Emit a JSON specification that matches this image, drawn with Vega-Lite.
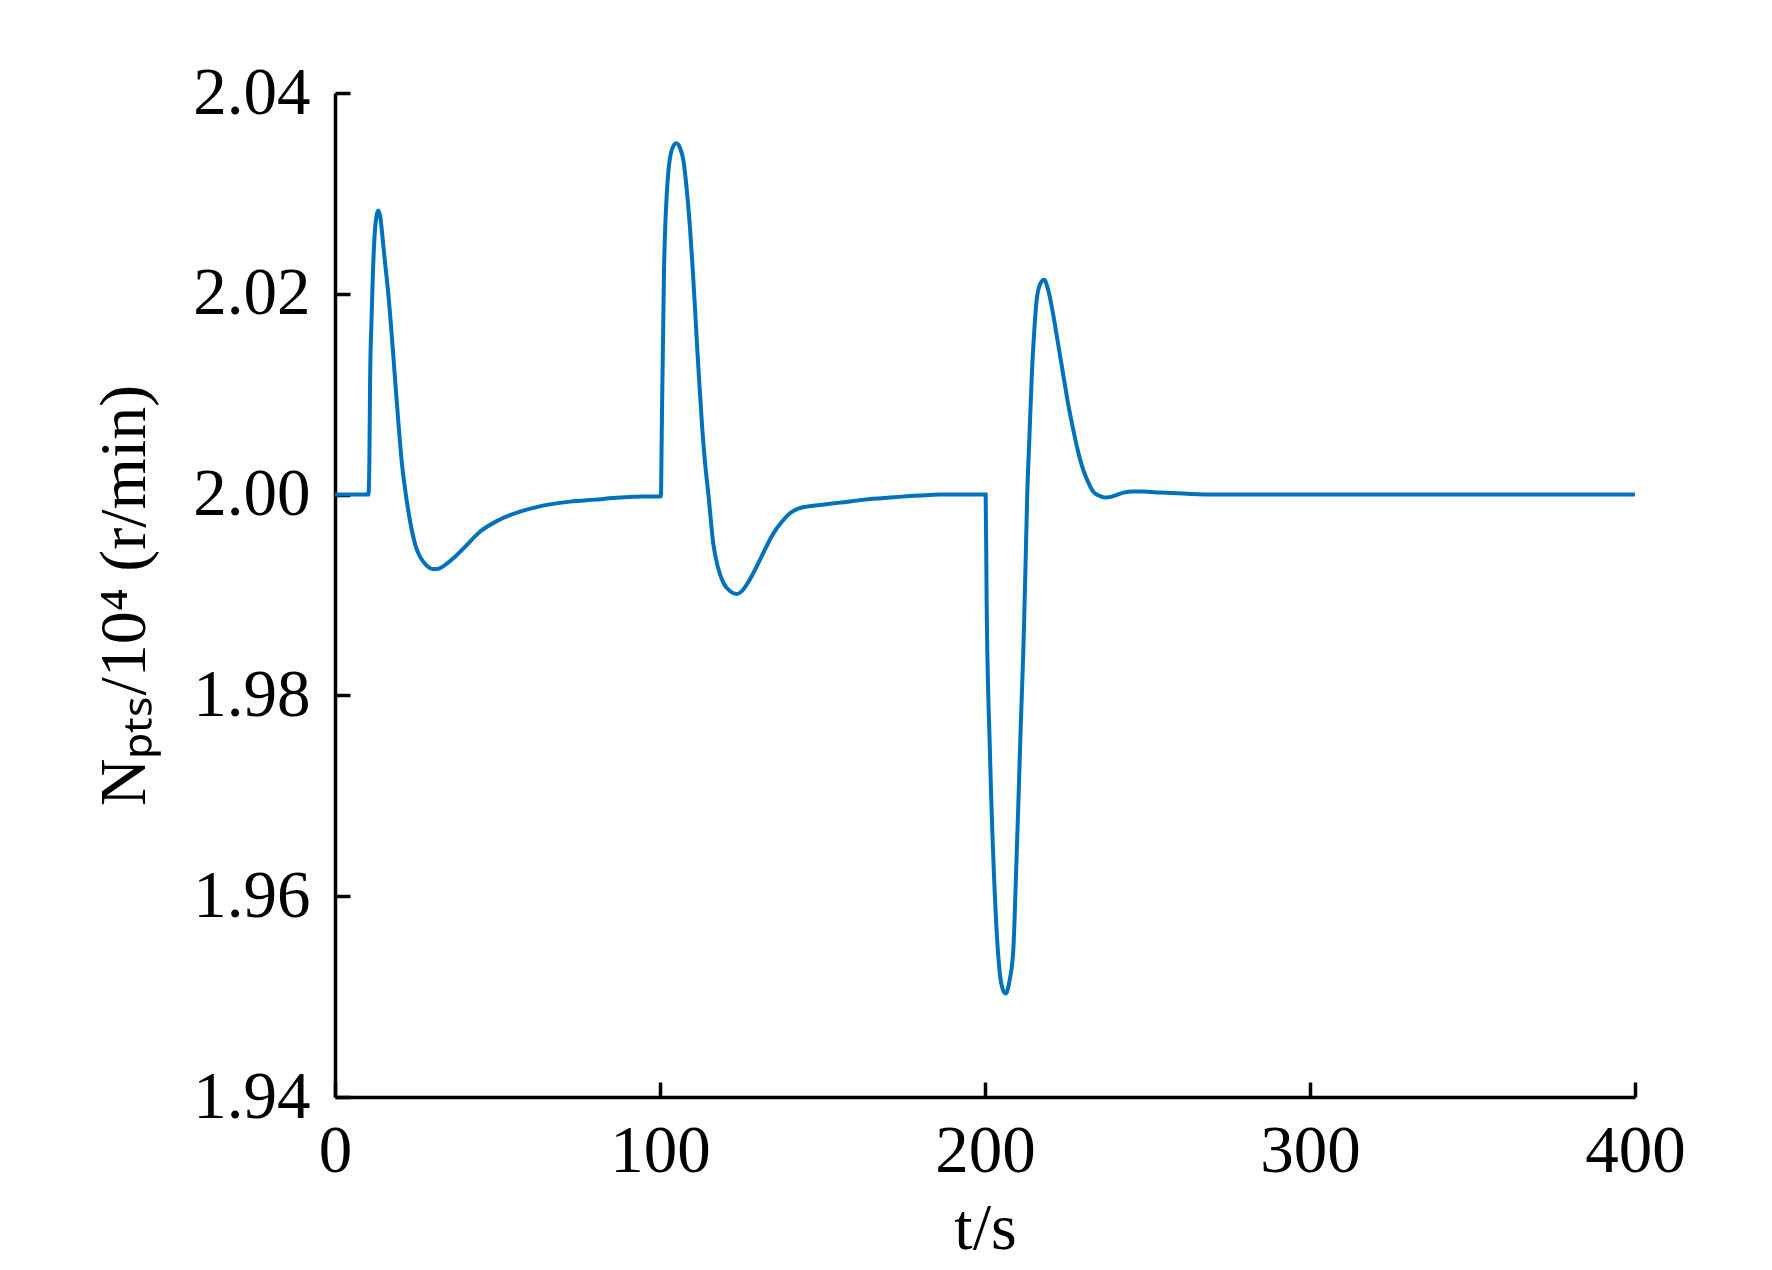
{
  "$schema": "https://vega.github.io/schema/vega-lite/v6.json",
  "width": 1300,
  "height": 1004,
  "autosize": "none",
  "padding": {"left": 335, "top": 93, "right": 137, "bottom": 173},
  "background": "white",
  "config": {
    "view": {"stroke": null},
    "axis": {
      "grid": false,
      "domainColor": "black",
      "domainWidth": 3.5,
      "tickColor": "black",
      "tickWidth": 3.5,
      "tickSize": -15,
      "labelFlush": false,
      "labelFont": "Liberation Serif",
      "labelFontSize": 67,
      "labelColor": "black",
      "titleFont": "Liberation Serif",
      "titleFontSize": 66,
      "titleFontWeight": "normal",
      "titleColor": "black"
    }
  },
  "data": {
    "values": [
      {"t": 0, "v": 2.0}, {"t": 10.3, "v": 2.0}, {"t": 10.6, "v": 2.004}, {"t": 10.8, "v": 2.0114}, {"t": 11.2, "v": 2.017}, {"t": 11.6, "v": 2.0214}, {"t": 12.3, "v": 2.0264}, {"t": 12.8, "v": 2.0278}, {"t": 13.3, "v": 2.0283}, {"t": 13.9, "v": 2.0277}, {"t": 14.9, "v": 2.0247}, {"t": 15.6, "v": 2.0225}, {"t": 16.4, "v": 2.02}, {"t": 17.5, "v": 2.0157}, {"t": 18.5, "v": 2.0114}, {"t": 19.5, "v": 2.0072}, {"t": 20.5, "v": 2.0034}, {"t": 21.8, "v": 2.0}, {"t": 23.6, "v": 1.9965}, {"t": 25.0, "v": 1.9947}, {"t": 26.2, "v": 1.9938}, {"t": 28.0, "v": 1.993}, {"t": 30.0, "v": 1.9926}, {"t": 31.5, "v": 1.9926}, {"t": 33.5, "v": 1.9929}, {"t": 36.4, "v": 1.99365}, {"t": 40, "v": 1.9948}, {"t": 44.6, "v": 1.9963}, {"t": 50, "v": 1.9974}, {"t": 56.9, "v": 1.9983}, {"t": 64, "v": 1.9989}, {"t": 72.3, "v": 1.9993}, {"t": 80, "v": 1.9995}, {"t": 87.7, "v": 1.9997}, {"t": 95, "v": 1.9998}, {"t": 100, "v": 1.9998},
      {"t": 100.2, "v": 1.9998}, {"t": 100.3, "v": 2.0}, {"t": 100.5, "v": 2.0051}, {"t": 101.2, "v": 2.0217}, {"t": 102.1, "v": 2.03}, {"t": 103.6, "v": 2.0343}, {"t": 105.0, "v": 2.035}, {"t": 106.2, "v": 2.0345}, {"t": 107.2, "v": 2.0333}, {"t": 108.2, "v": 2.0305}, {"t": 109.2, "v": 2.0267}, {"t": 110.0, "v": 2.0228}, {"t": 110.8, "v": 2.0184}, {"t": 111.5, "v": 2.0143}, {"t": 112.3, "v": 2.0101}, {"t": 113.0, "v": 2.0066}, {"t": 113.8, "v": 2.0034}, {"t": 114.9, "v": 2.0}, {"t": 116.4, "v": 1.9951}, {"t": 117.8, "v": 1.9928}, {"t": 119.5, "v": 1.9912}, {"t": 121.5, "v": 1.9904}, {"t": 123.6, "v": 1.9901}, {"t": 125.5, "v": 1.9905}, {"t": 127, "v": 1.9912}, {"t": 128.7, "v": 1.99216}, {"t": 131.5, "v": 1.994}, {"t": 134.9, "v": 1.99614}, {"t": 137.5, "v": 1.9973}, {"t": 140, "v": 1.99814}, {"t": 142.5, "v": 1.9986}, {"t": 145.1, "v": 1.9988}, {"t": 150, "v": 1.999}, {"t": 155.4, "v": 1.9992}, {"t": 163, "v": 1.9995}, {"t": 170.8, "v": 1.9997}, {"t": 180, "v": 1.9999}, {"t": 186.2, "v": 2.0}, {"t": 200, "v": 2.0},
      {"t": 200.2, "v": 2.0}, {"t": 200.5, "v": 1.9895}, {"t": 201.5, "v": 1.9746}, {"t": 203.1, "v": 1.9596}, {"t": 204.6, "v": 1.9522}, {"t": 205.5, "v": 1.9507}, {"t": 206.4, "v": 1.9503}, {"t": 207.5, "v": 1.9515}, {"t": 208.7, "v": 1.9546}, {"t": 209.5, "v": 1.9617}, {"t": 210.3, "v": 1.9696}, {"t": 211.0, "v": 1.977}, {"t": 211.8, "v": 1.9845}, {"t": 212.4, "v": 1.992}, {"t": 213.0, "v": 2.0}, {"t": 213.7, "v": 2.006}, {"t": 214.4, "v": 2.0119}, {"t": 215.1, "v": 2.016}, {"t": 215.9, "v": 2.0194}, {"t": 217.0, "v": 2.021}, {"t": 218.2, "v": 2.0214}, {"t": 219.5, "v": 2.0203}, {"t": 221.0, "v": 2.0179}, {"t": 222.5, "v": 2.015}, {"t": 224.1, "v": 2.0119}, {"t": 225.6, "v": 2.009}, {"t": 227.2, "v": 2.0064}, {"t": 228.7, "v": 2.0042}, {"t": 230.3, "v": 2.0024}, {"t": 231.8, "v": 2.0012}, {"t": 233.3, "v": 2.0003}, {"t": 235, "v": 1.9999}, {"t": 236.9, "v": 1.9997}, {"t": 239, "v": 1.9998}, {"t": 242.6, "v": 2.0002}, {"t": 245.5, "v": 2.0003}, {"t": 248.7, "v": 2.0003}, {"t": 254, "v": 2.0002}, {"t": 261, "v": 2.0001}, {"t": 270, "v": 2.0}, {"t": 400, "v": 2.0}
    ]
  },
  "mark": {"type": "line", "color": "#0072BD", "strokeWidth": 4, "interpolate": "monotone", "clip": true},
  "encoding": {
    "x": {
      "field": "t",
      "type": "quantitative",
      "scale": {"domain": [0, 400], "nice": false, "zero": false},
      "axis": {"values": [0, 100, 200, 300, 400], "labelPadding": 36, "title": "t/s", "titlePadding": 12}
    },
    "y": {
      "field": "v",
      "type": "quantitative",
      "scale": {"domain": [1.94, 2.04], "nice": false, "zero": false},
      "axis": {"values": [1.94, 1.96, 1.98, 2.0, 2.02, 2.04], "format": ".2f", "labelPadding": 40, "title": "Nₚₜₛ/10⁴ (r/min)", "titlePadding": 34}
    }
  }
}
